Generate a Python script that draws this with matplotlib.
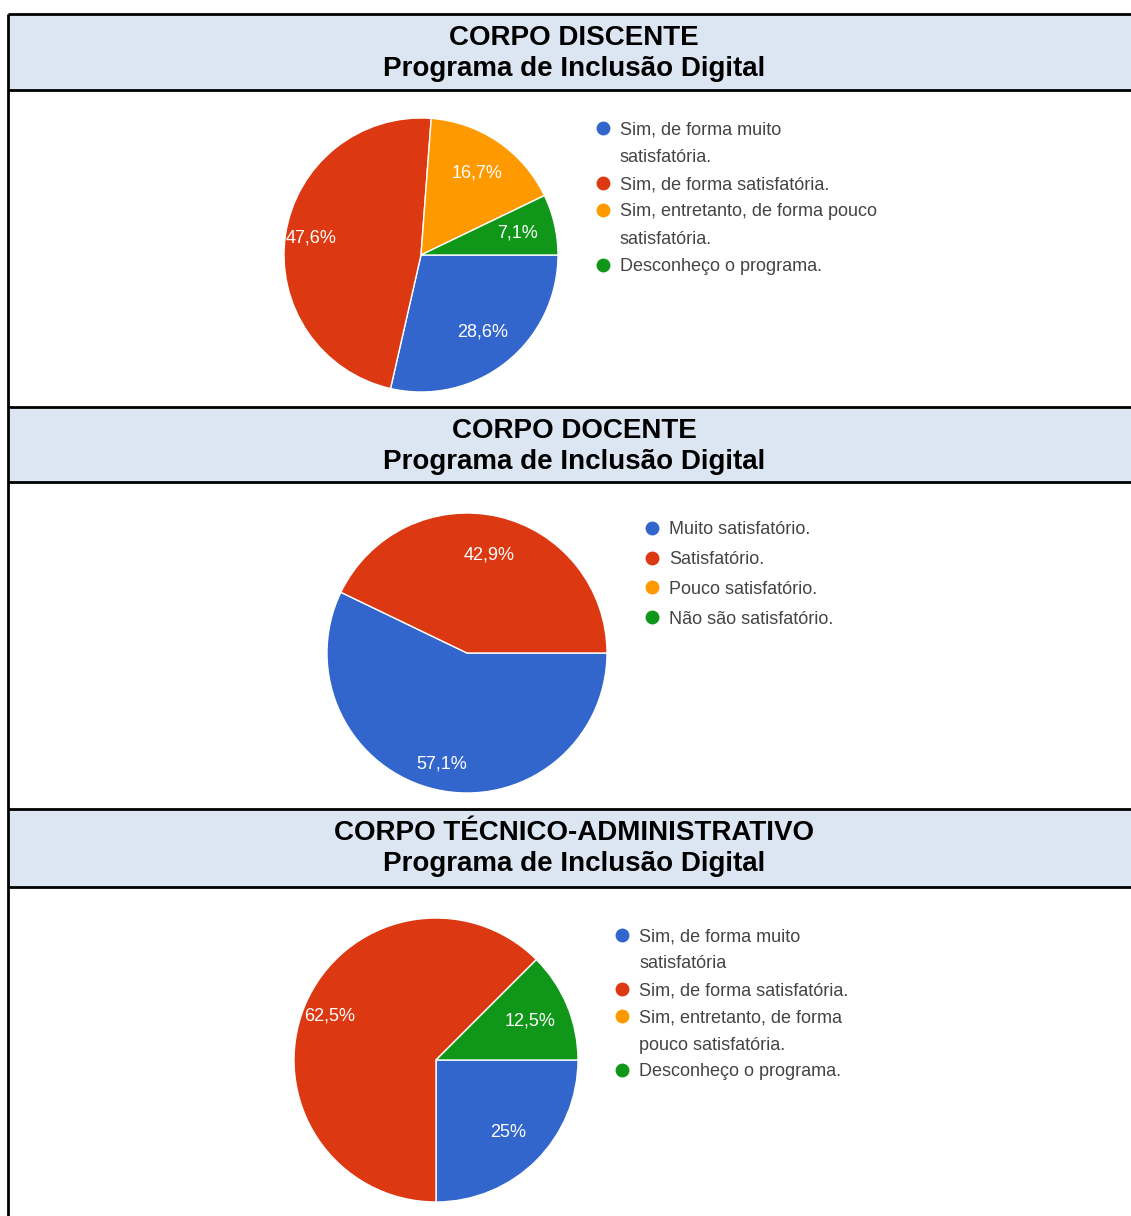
import matplotlib
matplotlib.use("Agg")
import numpy as np
import matplotlib.pyplot as plt
from matplotlib.patches import Rectangle

# ===== global settings =====
W, H = 1131, 1216
DPI = 100
FONT = "Liberation Sans"
CORES = ["#3366cc", "#dc3912", "#ff9900", "#109618"]
FUNDO_CABECALHO = "#dce6f2"

# ===== data (number of answers per option) =====
TITULO_1 = "CORPO DISCENTE"
CATEGORIAS_DISCENTE = [
    "Sim, de forma muito\nsatisfatória.",
    "Sim, de forma satisfatória.",
    "Sim, entretanto, de forma pouco\nsatisfatória.",
    "Desconheço o programa.",
]
RESPOSTAS_DISCENTE = [12, 20, 7, 3]

TITULO_2 = "CORPO DOCENTE"
CATEGORIAS_DOCENTE = [
    "Muito satisfatório.",
    "Satisfatório.",
    "Pouco satisfatório.",
    "Não são satisfatório.",
]
RESPOSTAS_DOCENTE = [4, 3, 0, 0]

TITULO_3 = "CORPO TÉCNICO-ADMINISTRATIVO"
CATEGORIAS_TECNICO = [
    "Sim, de forma muito\nsatisfatória",
    "Sim, de forma satisfatória.",
    "Sim, entretanto, de forma\npouco satisfatória.",
    "Desconheço o programa.",
]
RESPOSTAS_TECNICO = [2, 5, 0, 1]

SUBTITULO = "Programa de Inclusão Digital"

# ===== layout (pixels) =====
# header top/bottom, pie centre + radius, legend marker x, first y, line step
BLOCOS = [
    {"head": (14, 90), "pie": (421, 255, 137), "leg": (603, 128, 27.3)},
    {"head": (407, 482), "pie": (467, 653, 140), "leg": (652, 528, 29.7)},
    {"head": (809, 887), "pie": (436, 1060, 142), "leg": (622, 935, 27.0)},
]
BORDA_X = 8


def fmt_pct(pct):
    if pct < 0.05:
        return ""
    s = f"{pct:.1f}".replace(".", ",")
    if s.endswith(",0"):
        s = s[:-2]
    return s + "%"


def desenha_pizza(fig, respostas, pie_px):
    cx, cy, r = pie_px
    ax = fig.add_axes([(cx - r) / W, 1 - (cy + r) / H, 2 * r / W, 2 * r / H])
    # drop empty options but keep their colours
    vals = [v for v in respostas if v > 0]
    cores = [c for v, c in zip(respostas, CORES) if v > 0]
    wedges, _, autotexts = ax.pie(
        vals, colors=cores, startangle=0, counterclock=False,
        autopct=fmt_pct, pctdistance=0.72,
        wedgeprops={"edgecolor": "white", "linewidth": 1.0},
        textprops={"color": "white", "fontsize": 13, "family": FONT},
    )
    # big slices get their label pushed further out (like google forms)
    total = sum(vals)
    for w, t, v in zip(wedges, autotexts, vals):
        if v / total > 0.45:
            ang = np.deg2rad((w.theta1 + w.theta2) / 2)
            t.set_position((0.81 * np.cos(ang), 0.81 * np.sin(ang)))
    ax.set_xlim(-1, 1)
    ax.set_ylim(-1, 1)
    ax.axis("off")


def desenha_legenda(ov, categorias, leg_px):
    mx, y0, passo = leg_px
    linha = 0
    for cat, cor in zip(categorias, CORES):
        y = y0 + linha * passo
        ov.plot(mx, y, "o", color=cor, markersize=10, markeredgewidth=0)
        for k, txt in enumerate(cat.split("\n")):
            ov.text(mx + 17, y + k * passo, txt, fontsize=13, family=FONT,
                    color="#444444", va="center_baseline", ha="left")
        linha += cat.count("\n") + 1


def main():
    fig = plt.figure(figsize=(W / DPI, H / DPI), dpi=DPI)
    fig.patch.set_facecolor("white")

    # overlay in pixel coordinates for boxes, headers and legends
    ov = fig.add_axes([0, 0, 1, 1])
    ov.set_xlim(0, W)
    ov.set_ylim(H, 0)
    ov.axis("off")

    titulos = [TITULO_1, TITULO_2, TITULO_3]
    categorias = [CATEGORIAS_DISCENTE, CATEGORIAS_DOCENTE, CATEGORIAS_TECNICO]
    respostas = [RESPOSTAS_DISCENTE, RESPOSTAS_DOCENTE, RESPOSTAS_TECNICO]

    for bloco, tit, cats, resp in zip(BLOCOS, titulos, categorias, respostas):
        top, bot = bloco["head"]
        ov.add_patch(Rectangle((BORDA_X, top), W - BORDA_X, bot - top,
                               facecolor=FUNDO_CABECALHO, edgecolor="none"))
        for yy in (top, bot):
            ov.plot([BORDA_X, W], [yy, yy], color="black", linewidth=2.0,
                    solid_capstyle="butt")
        ov.text(574, top + 31, tit, fontsize=20, fontweight="bold",
                family=FONT, ha="center", va="baseline")
        ov.text(574, top + 62, SUBTITULO, fontsize=20, fontweight="bold",
                family=FONT, ha="center", va="baseline")
        desenha_legenda(ov, cats, bloco["leg"])
        desenha_pizza(fig, resp, bloco["pie"])

    # left border
    ov.plot([BORDA_X, BORDA_X], [BLOCOS[0]["head"][0], H], color="black",
            linewidth=2.0, solid_capstyle="butt")

    fig.savefig("out.png", dpi=DPI)
    print("saved out.png")


if __name__ == "__main__":
    main()
